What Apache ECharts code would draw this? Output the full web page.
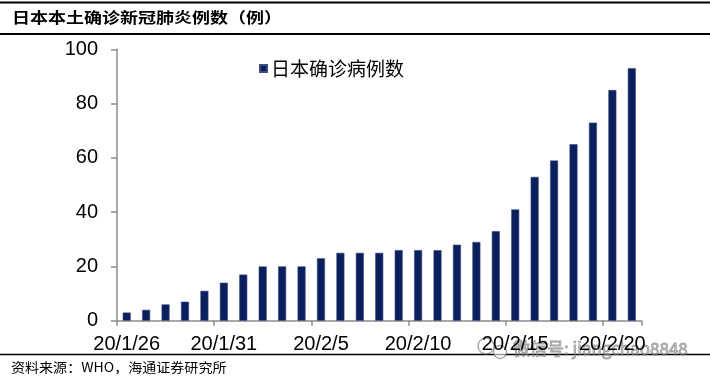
<!DOCTYPE html>
<html>
<head>
<meta charset="utf-8">
<script src="https://cdn.jsdelivr.net/npm/echarts@6/dist/echarts.min.js"></script>
<style>html,body{margin:0;padding:0;background:#fff;}#c{width:710px;height:383px;}</style>
</head>
<body>
<div id="c"></div>
<script>
var categories = ['20/1/26','20/1/27','20/1/28','20/1/29','20/1/30','20/1/31','20/2/1','20/2/2','20/2/3','20/2/4','20/2/5','20/2/6','20/2/7','20/2/8','20/2/9','20/2/10','20/2/11','20/2/12','20/2/13','20/2/14','20/2/15','20/2/16','20/2/17','20/2/18','20/2/19','20/2/20','20/2/21'];
var cases = [3, 4, 6, 7, 11, 14, 17, 20, 20, 20, 23, 25, 25, 25, 26, 26, 26, 28, 29, 33, 41, 53, 59, 65, 73, 85, 93];
var seriesName = '日本确诊病例数';
var titleText = '日本本土确诊新冠肺炎例数（例）';
var sourceText = '资料来源：WHO，海通证券研究所';
var watermarkText = '微信号: jiangchao8848';

var chart = echarts.init(document.getElementById('c'));
var cjk = '"Noto Sans CJK SC", sans-serif';
var num = '"Liberation Sans", Arial, sans-serif';
chart.setOption({
  animation: false,
  backgroundColor: '#fff',
  grid: { left: 117, right: 68.5, top: 49.3, bottom: 62.3, containLabel: false },
  legend: {
    data: [seriesName], left: 254, top: 54, icon: 'rect', itemWidth: 7, itemHeight: 7, itemGap: 6,
    textStyle: { fontFamily: cjk, fontSize: 19, color: '#000', padding: [0,0,0,-1] }
  },
  xAxis: {
    type: 'category', data: categories, boundaryGap: true,
    axisLine: { lineStyle: { color: '#8c8c8c', width: 1.5 } },
    axisTick: { show: true, interval: 4, alignWithLabel: false, length: 5, lineStyle: { color: '#8c8c8c', width: 1.5 } },
    axisLabel: { interval: 4, margin: 14, fontFamily: num, fontSize: 20, color: '#000' }
  },
  yAxis: {
    type: 'value', min: 0, max: 100, interval: 20,
    splitLine: { show: false },
    axisLine: { show: true, lineStyle: { color: '#8c8c8c', width: 1.5 } },
    axisTick: { show: true, length: 6, lineStyle: { color: '#8c8c8c', width: 1.5 } },
    axisLabel: { margin: 19, fontFamily: num, fontSize: 20, color: '#000' }
  },
  series: [{
    name: seriesName, type: 'bar', data: cases, barWidth: 8,
    itemStyle: { color: '#0B1F5E', borderColor: '#3D4B7E', borderWidth: 0.6 }
  }],
  graphic: [
    { type: 'line', shape: { x1: 0, y1: 2.5, x2: 710, y2: 2.5 }, style: { stroke: '#000', lineWidth: 2 } },
    { type: 'line', shape: { x1: 0, y1: 34, x2: 710, y2: 34 }, style: { stroke: '#000', lineWidth: 2 } },
    { type: 'line', shape: { x1: 0, y1: 354.5, x2: 710, y2: 354.5 }, style: { stroke: '#000', lineWidth: 1.5 } },
    { type: 'text', x: 12, y: 10, scaleX: 1.2, style: { text: titleText, font: 'bold 15px ' + cjk, fill: '#000' } },
    { type: 'text', x: 11, y: 361, scaleX: 1.08, style: { text: sourceText, font: '13px ' + cjk, fill: '#000' } },
    { type: 'circle', shape: { cx: 486, cy: 346, r: 8 }, style: { fill: 'none', stroke: 'rgba(110,110,110,0.65)', lineWidth: 1.3 } },
    { type: 'circle', shape: { cx: 500, cy: 352, r: 6.5 }, style: { fill: 'rgba(255,255,255,0.6)', stroke: 'rgba(110,110,110,0.65)', lineWidth: 1.3 } },
    { type: 'text', x: 513, y: 340, style: { text: watermarkText, font: '17px ' + cjk, fill: 'rgba(150,150,150,0.55)', stroke: 'rgba(90,90,90,0.55)', lineWidth: 0.8 } }
  ]
});
</script>
</body>
</html>
